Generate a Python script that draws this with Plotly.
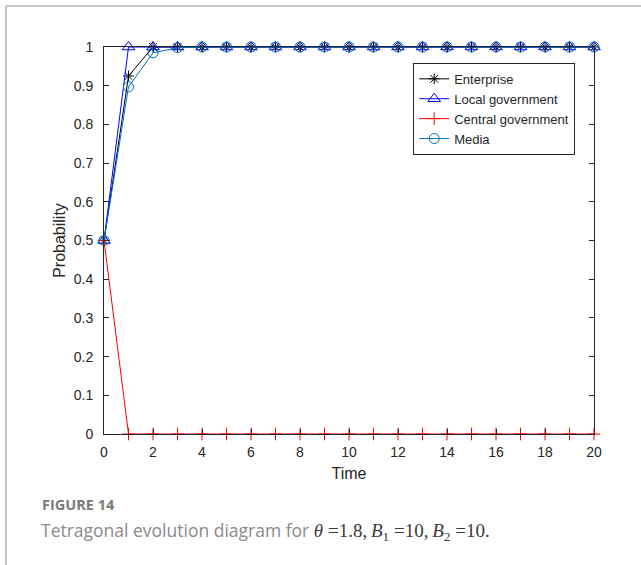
import plotly.graph_objects as go

# Evolution of strategy probabilities over time
time = list(range(21))
enterprise = [0.5, 0.925, 1.0, 1.0, 1.0, 1.0, 1.0, 1.0, 1.0, 1.0, 1.0,
              1.0, 1.0, 1.0, 1.0, 1.0, 1.0, 1.0, 1.0, 1.0, 1.0]
local_gov = [0.5, 1.0, 1.0, 1.0, 1.0, 1.0, 1.0, 1.0, 1.0, 1.0, 1.0,
             1.0, 1.0, 1.0, 1.0, 1.0, 1.0, 1.0, 1.0, 1.0, 1.0]
central_gov = [0.5, 0.0, 0.0, 0.0, 0.0, 0.0, 0.0, 0.0, 0.0, 0.0, 0.0,
               0.0, 0.0, 0.0, 0.0, 0.0, 0.0, 0.0, 0.0, 0.0, 0.0]
media = [0.5, 0.897, 0.985, 0.998, 1.0, 1.0, 1.0, 1.0, 1.0, 1.0, 1.0,
         1.0, 1.0, 1.0, 1.0, 1.0, 1.0, 1.0, 1.0, 1.0, 1.0]

series = [
    ("Enterprise", enterprise, "#000000", "asterisk-open", 9),
    ("Local government", local_gov, "#0000FF", "triangle-up-open", 11),
    ("Central government", central_gov, "#FF0000", "cross-thin-open", 9),
    ("Media", media, "#0072BD", "circle-open", 10),
]

fig = go.Figure()
for name, vals, color, symbol, size in series:
    fig.add_trace(go.Scatter(
        x=time, y=vals, name=name, mode="lines+markers",
        line=dict(color=color, width=1),
        marker=dict(symbol=symbol, size=size, color=color,
                    line=dict(color=color, width=1)),
        cliponaxis=False,
    ))

axis_common = dict(
    showline=True, linecolor="#262626", linewidth=1, mirror="ticks",
    ticks="inside", ticklen=5, tickcolor="#262626", tickwidth=1,
    showgrid=False, zeroline=False,
    tickfont=dict(family="Liberation Sans, Arial", size=14, color="#262626"),
)
title_font = dict(family="Liberation Sans, Arial", size=16, color="#262626")

fig.update_xaxes(range=[0, 20], tickvals=list(range(0, 21, 2)),
                 ticklabelstandoff=5,
                 title=dict(text="Time", standoff=9, font=title_font),
                 **axis_common)
fig.update_yaxes(range=[0, 1], tickvals=[i / 10 for i in range(11)],
                 ticktext=["0", "0.1", "0.2", "0.3", "0.4", "0.5", "0.6", "0.7", "0.8", "0.9", "1"],
                 ticklabelstandoff=7,
                 title=dict(text="Probability", standoff=4, font=title_font),
                 **axis_common)

# page frame lines
fig.add_shape(type="line", xref="paper", yref="paper",
              x0=-0.2, x1=1.2, y0=1.106, y1=1.106,
              line=dict(color="#c8c8c8", width=2))
fig.add_shape(type="line", xref="paper", yref="paper",
              x0=-0.2, x1=-0.2, y0=1.106, y1=-0.36,
              line=dict(color="#c8c8c8", width=2))

# caption
fig.add_annotation(xref="paper", yref="paper", x=-0.131, y=-0.181,
                   xanchor="left", yanchor="middle", showarrow=False,
                   text="<b>FIGURE 14</b>",
                   font=dict(family="Open Sans", size=14.5, color="#7a7a7a"))
math = "font-family:'Liberation Serif', 'Times New Roman';color:#3a3a3a;font-size:19px"
fig.add_annotation(xref="paper", yref="paper", x=-0.133, y=-0.251,
                   xanchor="left", yanchor="middle", showarrow=False,
                   text=("Tetragonal evolution diagram for "
                         f"<span style=\"{math}\"><i>θ</i> =1.8,\u2009<i>B</i><sub>1</sub> =10,\u2009"
                         "<i>B</i><sub>2</sub> =10.</span>"),
                   font=dict(family="Open Sans", size=17.5, color="#8a8a8a"))

fig.update_layout(
    width=641, height=565,
    margin=dict(l=104, r=47, t=47, b=131),
    plot_bgcolor="white", paper_bgcolor="white",
    showlegend=True,
    legend=dict(x=0.631, y=0.959, xanchor="left", yanchor="top",
                bgcolor="white", bordercolor="#262626", borderwidth=1,
                font=dict(family="Liberation Sans, Arial", size=13, color="#262626"),
                tracegroupgap=0, itemwidth=30),
)

fig.write_html("out.html")
